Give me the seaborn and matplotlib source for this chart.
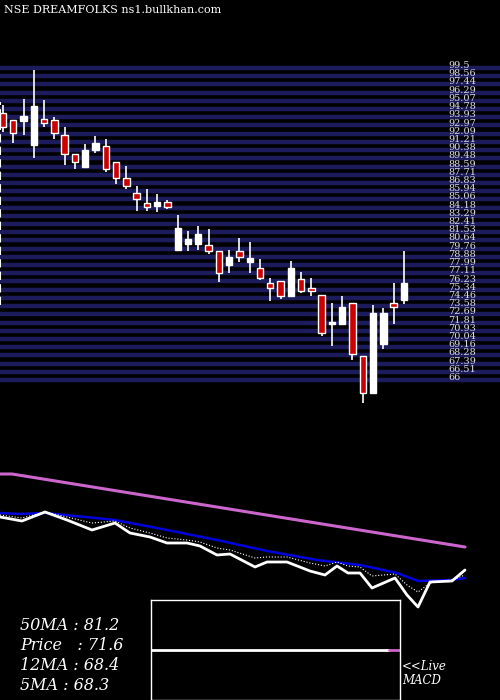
import numpy as np
import pandas as pd
import matplotlib
matplotlib.use("Agg")
import matplotlib.pyplot as plt
import seaborn as sns

# daily candles
opens  = [94.9, 94.1, 94.0, 91.6, 94.2, 94.1, 92.6, 90.6, 89.3, 91.0, 91.5, 89.8, 88.2, 86.6, 85.6, 85.3, 85.7,
          80.7, 81.4, 81.4, 81.3, 80.6, 79.2, 80.6, 79.5, 78.9, 77.3, 77.5, 76.0, 77.7, 76.8, 76.1, 73.1, 73.1,
          75.3, 69.8, 66.0, 71.0, 75.3, 75.6]
closes = [93.4, 92.8, 94.5, 95.6, 93.8, 92.8, 90.6, 89.8, 91.0, 91.8, 89.1, 88.2, 87.3, 86.0, 85.2, 85.7, 85.2,
          83.0, 81.9, 82.4, 80.6, 78.4, 80.0, 80.0, 79.9, 77.9, 76.8, 76.0, 78.9, 76.5, 76.5, 72.2, 73.3, 74.9,
          70.0, 66.0, 74.2, 74.2, 74.9, 77.3]
highs  = [95.7, 94.1, 96.3, 99.3, 96.2, 94.5, 93.4, 90.6, 91.7, 92.5, 92.2, 89.8, 89.4, 87.3, 87.0, 86.5, 85.9,
          84.3, 82.7, 83.2, 82.9, 80.6, 80.7, 82.0, 81.6, 79.8, 77.9, 77.5, 79.6, 78.5, 77.8, 76.1, 75.3, 76.0,
          75.3, 69.8, 75.1, 74.8, 77.3, 80.6]
lows   = [92.9, 91.8, 92.6, 90.2, 93.4, 92.2, 89.5, 89.1, 89.3, 90.7, 88.8, 87.5, 87.0, 84.8, 84.8, 84.7, 85.0,
          80.7, 80.6, 80.7, 80.3, 77.4, 78.4, 79.5, 78.4, 77.6, 75.5, 75.7, 76.0, 76.3, 76.0, 71.9, 70.8, 73.1,
          69.4, 65.0, 66.0, 70.5, 73.1, 75.2]
price_ticks = ["99.5", "98.56", "97.44", "96.29", "95.07", "94.78", "93.93", "92.97", "92.09", "91.21",
               "90.38", "89.48", "88.59", "87.71", "86.83", "85.94", "85.06", "84.18", "83.29", "82.41",
               "81.53", "80.64", "79.76", "78.88", "77.99", "77.11", "76.23", "75.34", "74.46", "73.58",
               "72.69", "71.81", "70.93", "70.04", "69.16", "68.28", "67.39", "66.51", "66"]

# lower panel averages (position along chart, level)
ma_x     = [0, 22, 45, 67, 92, 115, 130, 150, 167, 187, 200, 217, 230, 255, 267, 287, 310, 325, 337, 348, 360,
            372, 395, 407, 418, 430, 452, 465]
price_ln = [517, 521, 512, 520, 530, 523, 533, 537, 543, 543, 546, 555, 554, 567, 562, 562, 571, 575, 566,
            573, 573, 588, 578, 595, 607, 582, 581, 570]
ma12_ln  = [515, 518, 512, 517, 523, 521, 528, 533, 538, 540, 542, 548, 550, 558, 557, 557, 563, 566, 562,
            566, 567, 576, 574, 585, 592, 583, 580, 575]
ma20_x   = [0, 20, 45, 115, 167, 217, 267, 317, 360, 397, 418, 452, 465]
ma20_ln  = [513, 514, 513, 520, 530, 540, 551, 560, 565, 573, 581, 580, 578]
ma50_x   = [0, 12, 465]
ma50_ln  = [474, 474, 547]

labels = ["50MA : 81.2", "Price   : 71.6", "12MA : 68.4", "5MA : 68.3"]

plt.rcParams["figure.facecolor"] = "black"
sns.set_style("dark", {"axes.facecolor": "black"})
plt.rcParams["font.family"] = ["DejaVu Serif"]

fig = plt.figure(figsize=(5, 7), dpi=100)

# candles
ax = fig.add_axes([0, 1 - 410 / 700, 1, 350 / 700])
ax.set_facecolor("black")
lo_p = 99.5 - (410 - 68) / 9.7
hi_p = 99.5 + 8 / 9.7
ax.set_ylim(lo_p, hi_p)
ax.set_xlim(-0.29, 48.35)
tick_vals = np.linspace(99.5, 99.5 - (380 - 68) / 9.7, len(price_ticks))
for v in tick_vals:
    ax.axhline(v, color="#1c1c5c", lw=3.2, zorder=0)
for v, t in zip(tick_vals, price_ticks):
    ax.text(43.3, v + 0.25, t, color="#dddddd", fontsize=7, va="center", ha="left")
idx = np.arange(len(opens))
for i in idx:
    up = closes[i] >= opens[i]
    ax.vlines(i, lows[i], highs[i], color="white", lw=1.2, zorder=2)
    b0, b1 = min(opens[i], closes[i]), max(opens[i], closes[i])
    ax.bar(i, max(b1 - b0, 0.25), bottom=b0, width=0.62,
           color="white" if up else "#cc0000", edgecolor="white", lw=1, zorder=3)
ax.axvline(-0.29, ymin=0.3, ymax=0.88, color="white", lw=1.5, ls=(0, (4, 2)))
ax.set_xticks([]); ax.set_yticks([])
for s in ax.spines.values():
    s.set_visible(False)

# averages panel
ax2 = fig.add_axes([0, 1 - 620 / 700, 1, 160 / 700])
ax2.set_facecolor("black")
ax2.set_xlim(0, 500)
ax2.set_ylim(620, 460)
sns.lineplot(x=ma50_x, y=ma50_ln, ax=ax2, color="#cc66cc", lw=2.2)
sns.lineplot(x=ma20_x, y=ma20_ln, ax=ax2, color="#0000dd", lw=1.8)
sns.lineplot(x=ma_x, y=ma12_ln, ax=ax2, color="white", lw=0.8, ls=":")
sns.lineplot(x=ma_x, y=price_ln, ax=ax2, color="white", lw=2)
ax2.set_xticks([]); ax2.set_yticks([]); ax2.set_xlabel(""); ax2.set_ylabel("")
for s in ax2.spines.values():
    s.set_visible(False)

# macd box
ax3 = fig.add_axes([151 / 500, 0, 249 / 500, 100 / 700])
ax3.set_facecolor("black")
ax3.set_xlim(0, 1); ax3.set_ylim(-1, 1)
ax3.plot([0, 0.955], [0, 0], color="white", lw=2)
ax3.plot([0.955, 1], [0, 0], color="#cc66cc", lw=2)
ax3.set_xticks([]); ax3.set_yticks([])
for s in ax3.spines.values():
    s.set_color("white"); s.set_linewidth(1)

for k, t in enumerate(labels):
    fig.text(20 / 500, 1 - (625 + 20 * k) / 700, t, color="white", fontsize=11.5,
             style="italic", va="center")
fig.text(402 / 500, 1 - 667 / 700, "<<Live", color="white", fontsize=8.5, style="italic", va="center")
fig.text(402 / 500, 1 - 681 / 700, "MACD", color="white", fontsize=8.5, style="italic", va="center")
fig.text(4 / 500, 1 - 10 / 700, "NSE DREAMFOLKS ns1.bullkhan.com", color="white", fontsize=8, va="center")

fig.savefig("out.png", dpi=100, facecolor="black")
